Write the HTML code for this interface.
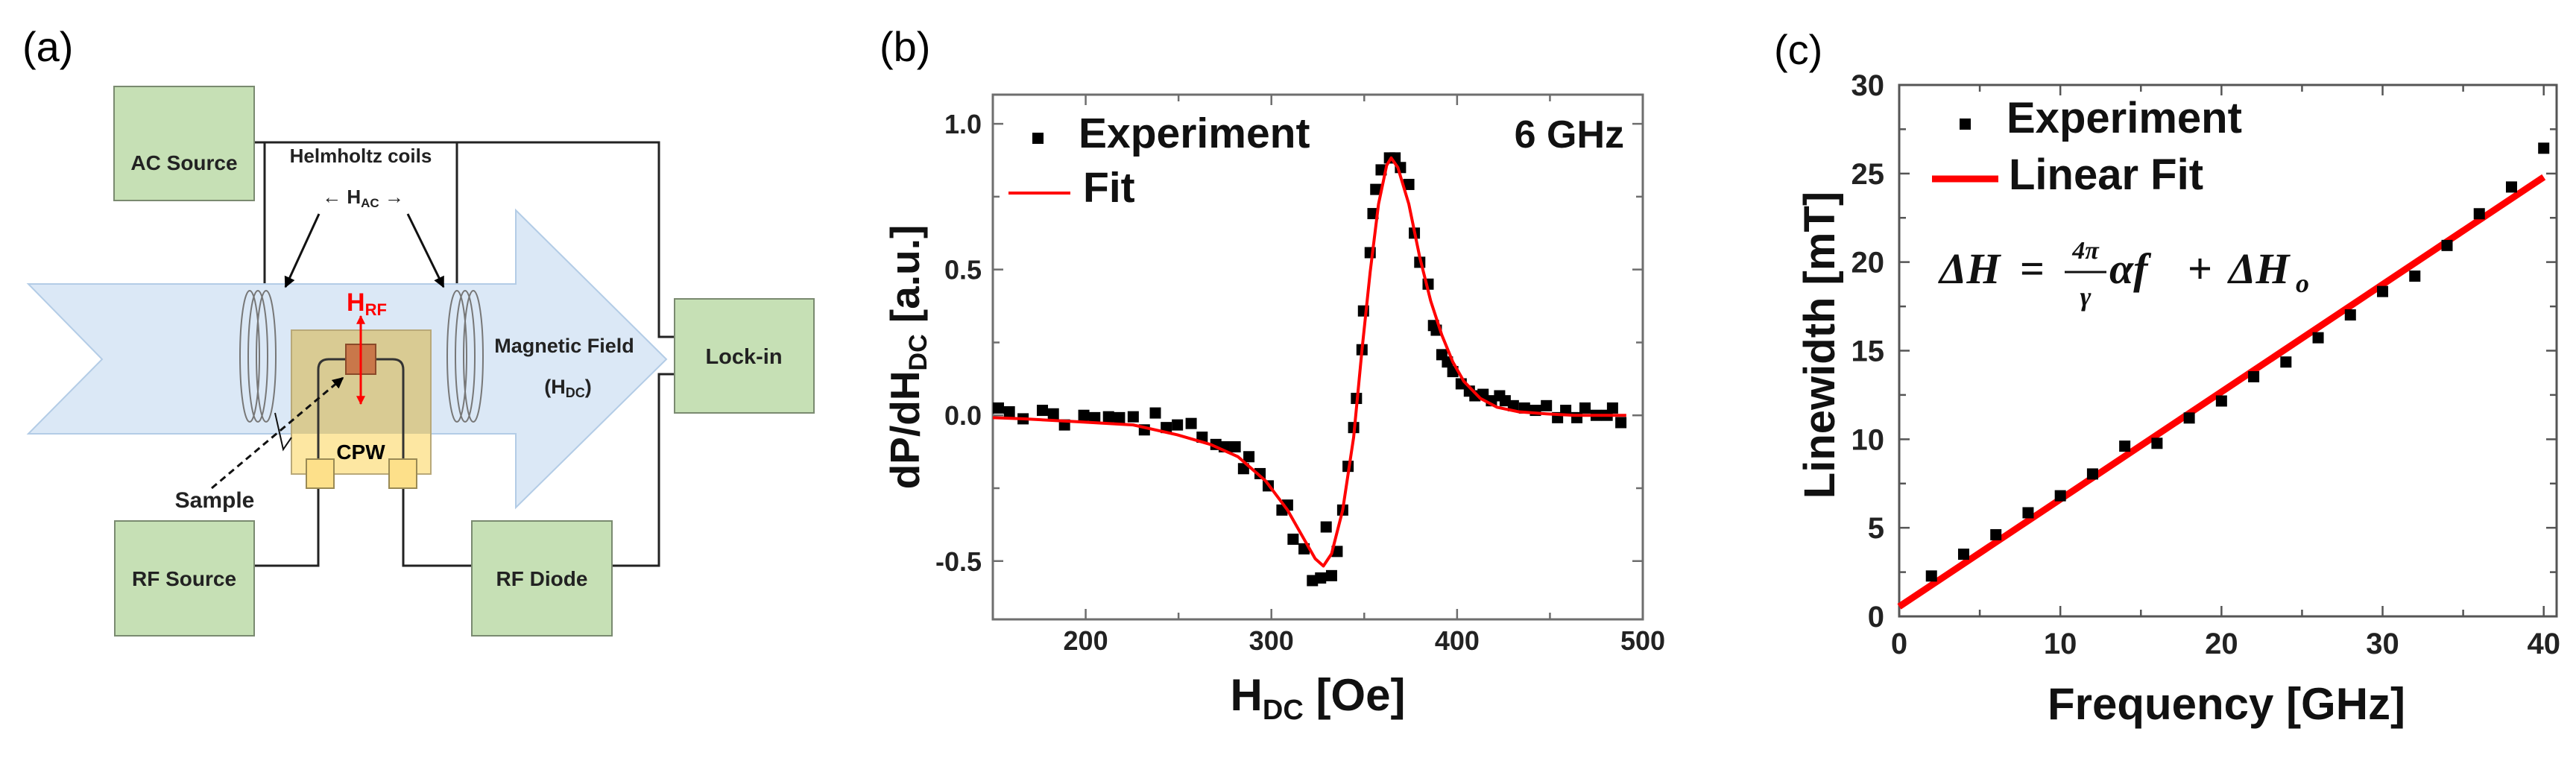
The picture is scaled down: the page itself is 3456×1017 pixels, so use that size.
<!DOCTYPE html>
<html><head><meta charset="utf-8"><style>
html,body{margin:0;padding:0;background:#fff;}
svg{display:block;font-family:"Liberation Sans",sans-serif;}
</style></head><body>
<svg id="root" width="3456" height="1017" viewBox="0 0 3456 1017" xmlns="http://www.w3.org/2000/svg">
<defs>
<marker id="blk" viewBox="0 0 10 10" refX="9" refY="5" markerWidth="5" markerHeight="5" orient="auto"><path d="M0,0L10,5L0,10z" fill="#000"/></marker>
<marker id="red" viewBox="0 0 10 10" refX="9" refY="5" markerWidth="4" markerHeight="4" orient="auto"><path d="M0,0L10,5L0,10z" fill="#f00"/></marker>
</defs>
<!-- Panel (a) -->
<g>
<text x="30" y="82" font-size="56">(a)</text>
<g stroke="#222" stroke-width="3" fill="none">
<path d="M341,191H884V452H905"/>
<path d="M355,191V392"/><path d="M613,191V392"/>
<path d="M905,502H884V759H821"/>
<path d="M341,759H427V655"/><path d="M541,655V759H633"/>
</g>
<path d="M38,381H692V282L894,482L692,681V582H38L137,482Z" fill="#dbe8f6" stroke="#b3cce6" stroke-width="2"/>
<rect x="391" y="443" width="187" height="193" fill="#fde7a2" stroke="#b9a979" stroke-width="2"/>
<rect x="392" y="444" width="185" height="138" fill="#d9cb93"/>
<path d="M427,616V496Q427,482 441,482H527Q541,482 541,496V616" fill="none" stroke="#333" stroke-width="3"/>
<rect x="411" y="616" width="37" height="39" fill="#fde08a" stroke="#9a8a55" stroke-width="2"/>
<rect x="522" y="616" width="37" height="39" fill="#fde08a" stroke="#9a8a55" stroke-width="2"/>
<text x="484" y="616" font-size="28" font-weight="bold" text-anchor="middle">CPW</text>
<rect x="464" y="462" width="40" height="40" fill="#c9774a" stroke="#8a4a2a" stroke-width="2"/>
<line x1="484" y1="482" x2="484" y2="424" stroke="#f00" stroke-width="3" marker-end="url(#red)"/>
<line x1="484" y1="482" x2="484" y2="542" stroke="#f00" stroke-width="3" marker-end="url(#red)"/>
<text x="465" y="417" font-size="34" font-weight="bold" fill="#f00">H<tspan font-size="22" dy="6">RF</tspan></text>
<g fill="none" stroke="#777" stroke-width="2">
<ellipse cx="335" cy="478" rx="13" ry="88"/><ellipse cx="346" cy="478" rx="13" ry="88"/><ellipse cx="357" cy="478" rx="13" ry="88"/></g>
<g fill="none" stroke="#777" stroke-width="2">
<ellipse cx="613" cy="478" rx="13" ry="88"/><ellipse cx="624" cy="478" rx="13" ry="88"/><ellipse cx="635" cy="478" rx="13" ry="88"/></g>
<text x="484" y="218" font-size="26" font-weight="bold" text-anchor="middle" fill="#222">Helmholtz  coils</text>
<text x="487" y="273" font-size="26" font-weight="bold" text-anchor="middle" fill="#222">←  H<tspan font-size="17" dy="5">AC</tspan><tspan dy="-5">  →</tspan></text>
<line x1="428" y1="287" x2="383" y2="385" stroke="#111" stroke-width="3" marker-end="url(#blk)"/>
<line x1="547" y1="287" x2="595" y2="385" stroke="#111" stroke-width="3" marker-end="url(#blk)"/>
<text x="757" y="473" font-size="27" font-weight="bold" text-anchor="middle" fill="#222">Magnetic Field</text>
<text x="762" y="528" font-size="27" font-weight="bold" text-anchor="middle" fill="#222">(H<tspan font-size="18" dy="5">DC</tspan><tspan dy="-5">)</tspan></text>
<path d="M369,554L380,603L391,587" fill="none" stroke="#111" stroke-width="2"/>
<line x1="284" y1="655" x2="460" y2="507" stroke="#111" stroke-width="3" stroke-dasharray="9,6" marker-end="url(#blk)"/>
<text x="288" y="681" font-size="30" font-weight="bold" text-anchor="middle" fill="#222">Sample</text>
<g><rect x="153" y="116" width="188" height="153" fill="#c6e0b5" stroke="#7a8a70" stroke-width="2"/><text x="247" y="228" font-size="28" font-weight="bold" text-anchor="middle" fill="#222">AC Source</text></g>
<g><rect x="905" y="401" width="187" height="153" fill="#c6e0b5" stroke="#7a8a70" stroke-width="2"/><text x="998" y="488" font-size="29" font-weight="bold" text-anchor="middle" fill="#222">Lock-in</text></g>
<g><rect x="154" y="699" width="187" height="154" fill="#c6e0b5" stroke="#7a8a70" stroke-width="2"/><text x="247" y="786" font-size="28" font-weight="bold" text-anchor="middle" fill="#222">RF Source</text></g>
<g><rect x="633" y="699" width="188" height="154" fill="#c6e0b5" stroke="#7a8a70" stroke-width="2"/><text x="727" y="786" font-size="28" font-weight="bold" text-anchor="middle" fill="#222">RF Diode</text></g>
</g>
<!-- Panel (b) -->
<g id="pb">
<text x="1180" y="82" font-size="56">(b)</text>
</g>
<!-- Panel (c) -->
<g id="pc">
<text x="2380" y="86" font-size="56">(c)</text>
</g>
</svg>
<script>
// ---- panel b data ----
const bExpX=[153,158.9,166.3,176.7,182.6,188.6,199,204.9,212.3,218.2,225.6,231.6,237.5,243.4,249.4,256.8,262.7,270.1,274.6,280.5,285,287.9,293.9,298.3,305.7,308.7,311.7,317.6,322.1,326.5,329.5,332.4,335.4,338.4,341.3,344.3,345.8,348.8,349.6,353.2,354.7,356.2,359.1,363.6,366.6,369.5,374,377,379.9,384.4,387.3,388.8,391.8,394.8,397.7,402.2,406.6,409.6,414,418.5,422.9,425.9,430.3,436.3,442.2,448.1,454.1,458.5,464.5,468.9,474.9,480.8,483.7,488.2];
const bExpY=[0.025,0.012,-0.012,0.017,0.005,-0.033,0,-0.008,-0.005,-0.008,-0.005,-0.05,0.008,-0.042,-0.033,-0.028,-0.075,-0.1,-0.108,-0.108,-0.183,-0.142,-0.2,-0.242,-0.325,-0.308,-0.425,-0.458,-0.567,-0.558,-0.383,-0.55,-0.467,-0.325,-0.175,-0.042,0.058,0.225,0.358,0.558,0.692,0.775,0.842,0.883,0.883,0.85,0.792,0.625,0.525,0.45,0.308,0.292,0.208,0.183,0.15,0.108,0.083,0.067,0.072,0.05,0.067,0.05,0.033,0.025,0.017,0.033,-0.008,0.017,-0.008,0.025,0,0,0.025,-0.025];
const bFitX=[150,166.3,196,225.6,249.4,267.2,282,296.9,308.7,317.6,323.6,328,332.4,338.4,344.3,348.8,353.2,357.7,362.1,364.5,368.1,374,379.9,385.8,391.8,397.7,403.6,412.5,421.4,433.2,448.1,462.9,491.1];
const bFitY=[-0.008,-0.012,-0.022,-0.033,-0.067,-0.1,-0.142,-0.225,-0.325,-0.425,-0.492,-0.517,-0.475,-0.325,-0.075,0.225,0.492,0.725,0.858,0.883,0.85,0.725,0.542,0.392,0.275,0.183,0.117,0.058,0.028,0.012,0.005,0,0];
const bXTicks=[200,300,400,500];
const bYTicks=[-0.5,0,0.5,1];
const bYTickLabels=["-0.5","0.0","0.5","1.0"];
// ---- panel c data ----
const cExpX=[2,4,6,8,10,12,14,16,18,20,22,24,26,28,30,32,34,36,38,40];
const cExpY=[2.28,3.51,4.61,5.85,6.81,8.04,9.61,9.77,11.2,12.16,13.53,14.36,15.73,17.02,18.34,19.21,20.94,22.73,24.24,26.43];
const cFitX=[0,40];
const cFitY=[0.55,24.8];
const cXTicks=[0,10,20,30,40];
const cYTicks=[0,5,10,15,20,25,30];

const NS="http://www.w3.org/2000/svg";
function mk(parent,tag,attrs,text){const e=document.createElementNS(NS,tag);for(const k in attrs)e.setAttribute(k,attrs[k]);if(text!==undefined)e.textContent=text;parent.appendChild(e);return e;}

// ===== Panel b =====
(function(){
const g=document.getElementById('pb');
const L=1332,R=2204,T=127,B=831,x0=150,x1=500,y0=-0.7,y1=1.1;
const sx=v=>L+(v-x0)/(x1-x0)*(R-L), sy=v=>B-(v-y0)/(y1-y0)*(B-T);
const fr=mk(g,'rect',{x:L,y:T,width:R-L,height:B-T,fill:'none',stroke:'#6e6e6e','stroke-width':3});


for(let v=200;v<=500;v+=50){const len=(v%100===0)?14:9;
 const t=mk(g,'path',{d:`M${sx(v)},${B}v${-len}M${sx(v)},${T}v${len}`,stroke:'#6e6e6e','stroke-width':2.5});
 
 }
for(let v=-0.5;v<=1.01;v+=0.25){const len=(Math.abs(v*2-Math.round(v*2))<0.01)?14:9;
 const t=mk(g,'path',{d:`M${L},${sy(v)}h${len}M${R},${sy(v)}h${-len}`,stroke:'#6e6e6e','stroke-width':2.5});
 
 }
bXTicks.forEach(v=>{const t=mk(g,'text',{x:sx(v),y:872,'font-size':36,'font-weight':'bold','text-anchor':'middle',fill:'#222'},String(v));
 
 });
bYTicks.forEach((v,i)=>{const t=mk(g,'text',{x:1317,y:sy(v)+13,'font-size':36,'font-weight':'bold','text-anchor':'end',fill:'#222'},bYTickLabels[i]);
 
 });
const pts=mk(g,'g',{fill:'#000'});


bExpX.forEach((x,i)=>{const r=mk(pts,'rect',{x:sx(x)-7.5,y:sy(bExpY[i])-7.5,width:15,height:15});
 
 });
const fit=mk(g,'polyline',{points:bFitX.map((x,i)=>sx(x)+','+sy(bFitY[i])).join(' '),fill:'none',stroke:'#f00','stroke-width':4,'stroke-linejoin':'round'});


const lg=mk(g,'g',{});


mk(lg,'rect',{x:1385,y:178,width:15,height:15,fill:'#000'});
mk(lg,'text',{x:1447,y:198,'font-size':57,'font-weight':'bold',fill:'#111'},'Experiment');
mk(lg,'line',{x1:1353,y1:259,x2:1436,y2:259,stroke:'#f00','stroke-width':4});
mk(lg,'text',{x:1453,y:271,'font-size':57,'font-weight':'bold',fill:'#111'},'Fit');
const fq=mk(g,'text',{x:2179,y:198,'font-size':52,'font-weight':'bold','text-anchor':'end',fill:'#111'},'6 GHz');


const yl=mk(g,'text',{x:0,y:0,'font-size':55,'font-weight':'bold','text-anchor':'middle',fill:'#111',transform:'translate(1233,479) rotate(-90)'});


yl.innerHTML='dP/dH<tspan font-size="34" dy="10">DC</tspan><tspan dy="-10">  [a.u.]</tspan>';
const xl=mk(g,'text',{x:1768,y:953,'font-size':60,'font-weight':'bold','text-anchor':'middle',fill:'#111'});


xl.innerHTML='H<tspan font-size="38" dy="12">DC</tspan><tspan dy="-12"> [Oe]</tspan>';
})();

// ===== Panel c =====
(function(){
const g=document.getElementById('pc');
const L=2548,R=3430,T=114,B=827,x0=0,x1=40.8,y0=0,y1=30;
const sx=v=>L+(v-x0)/(x1-x0)*(R-L), sy=v=>B-(v-y0)/(y1-y0)*(B-T);
const fr=mk(g,'rect',{x:L,y:T,width:R-L,height:B-T,fill:'none',stroke:'#555','stroke-width':3});


for(let v=0;v<=40;v+=5){const len=(v%10===0)?14:9;
 const t=mk(g,'path',{d:`M${sx(v)},${B}v${-len}M${sx(v)},${T}v${len}`,stroke:'#555','stroke-width':2.5});
 
 }
for(let v=0;v<=30;v+=2.5){const len=(v%5===0)?14:9;
 const t=mk(g,'path',{d:`M${L},${sy(v)}h${len}M${R},${sy(v)}h${-len}`,stroke:'#555','stroke-width':2.5});
 
 }
cXTicks.forEach(v=>{const t=mk(g,'text',{x:sx(v),y:877,'font-size':40,'font-weight':'bold','text-anchor':'middle',fill:'#222'},String(v));
 
 });
cYTicks.forEach(v=>{const t=mk(g,'text',{x:2528,y:sy(v)+14,'font-size':40,'font-weight':'bold','text-anchor':'end',fill:'#222'},String(v));
 
 });
const fit=mk(g,'line',{x1:sx(cFitX[0]),y1:sy(cFitY[0]),x2:sx(cFitX[1]),y2:sy(cFitY[1]),stroke:'#f00','stroke-width':9});


const pts=mk(g,'g',{fill:'#000'});


cExpX.forEach((x,i)=>{const r=mk(pts,'rect',{x:sx(x)-7.5,y:sy(cExpY[i])-7.5,width:15,height:15});
 
 });
const lg=mk(g,'g',{});


mk(lg,'rect',{x:2629,y:159,width:15,height:15,fill:'#000'});
mk(lg,'text',{x:2692,y:178,'font-size':58,'font-weight':'bold',fill:'#111'},'Experiment');
mk(lg,'line',{x1:2592,y1:240,x2:2681,y2:240,stroke:'#f00','stroke-width':9});
mk(lg,'text',{x:2695,y:254,'font-size':58,'font-weight':'bold',fill:'#111'},'Linear Fit');
const eq=mk(g,'g',{'font-family':'"Liberation Serif",serif','font-weight':'bold','font-style':'italic',fill:'#111'});


mk(eq,'text',{x:2602,y:380,'font-size':58},'ΔH');
mk(eq,'text',{x:2710,y:380,'font-size':58,'font-style':'normal'},'=');
mk(eq,'text',{x:2798,y:347,'font-size':34,'text-anchor':'middle'},'4π');
mk(eq,'line',{x1:2770,y1:365,x2:2826,y2:365,stroke:'#111','stroke-width':3});
mk(eq,'text',{x:2798,y:410,'font-size':36,'text-anchor':'middle'},'γ');
mk(eq,'text',{x:2830,y:380,'font-size':58},'αf');
mk(eq,'text',{x:2935,y:380,'font-size':58,'font-style':'normal'},'+');
mk(eq,'text',{x:2990,y:380,'font-size':58},'ΔH');
mk(eq,'text',{x:3080,y:392,'font-size':36},'o');
const yl=mk(g,'text',{x:0,y:0,'font-size':58,'font-weight':'bold','text-anchor':'middle',fill:'#111',transform:'translate(2461,463) rotate(-90)'},'Linewidth [mT]');


const xl=mk(g,'text',{x:2987,y:965,'font-size':60,'font-weight':'bold','text-anchor':'middle',fill:'#111'},'Frequency [GHz]');


})();
</script>
</body></html>
